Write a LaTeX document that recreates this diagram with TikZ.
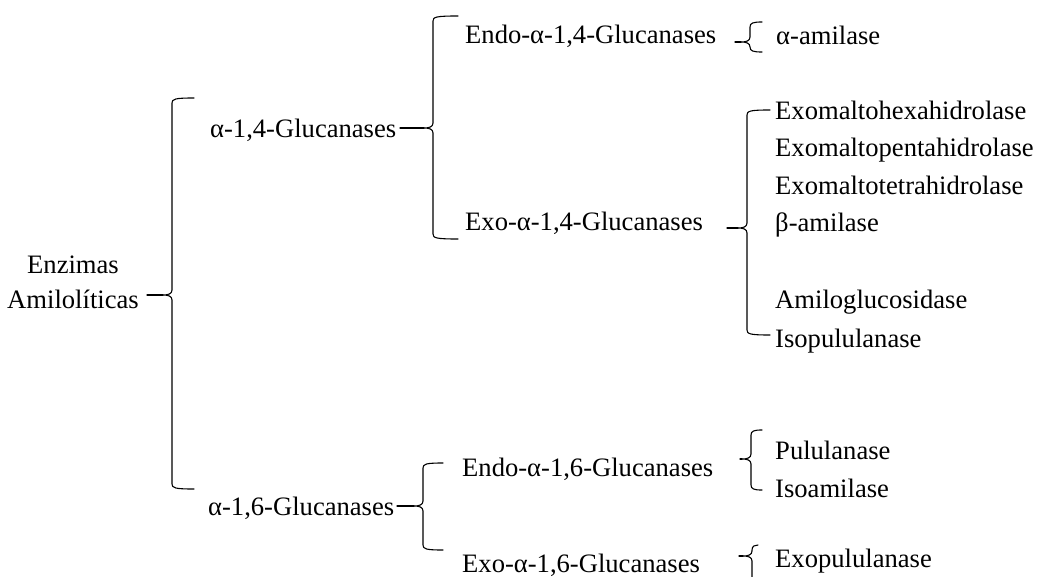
\documentclass[tikz,border=0pt]{standalone}
\usepackage{fontspec}
\setmainfont{Liberation Serif}
\tikzset{
  bracel/.style={line width=1.1pt, line join=round, line cap=round},
  lbl/.style={anchor=base west, inner sep=0pt, font=\fontsize{26.6}{32}\selectfont},
  clbl/.style={anchor=base, inner sep=0pt, font=\fontsize{26.6}{32}\selectfont}
}
% xbar ytop ybot xhook xtip ymid
\newcommand\brc[6]{%
  \draw[bracel] (#4,#2) .. controls ({#1+3},#2) and (#1,{#2+1}) .. (#1,{#2+5})
    -- (#1,{#6-5}) .. controls (#1,{#6-1}) and ({#1-4},#6) .. ({#1-9},#6)
    .. controls ({#1-4},#6) and (#1,{#6+1}) .. (#1,{#6+5})
    -- (#1,{#3-5}) .. controls (#1,{#3-1}) and ({#1+3},#3) .. (#4,#3);
  \draw[bracel] ({#1-9},#6) -- (#5,#6);
}
\begin{document}
\begin{tikzpicture}[x=1pt,y=-1pt]
\useasboundingbox[fill=white] (0,0) rectangle (1038,577);
% texts
\node[clbl] (enz1) at (73,273) {Enzimas};
\node[clbl] (enz2) at (73,308) {Amilolíticas};
\node[lbl] (a14) at (210,138) {α-1,4-Glucanases};
\node[lbl] (a16) at (208,515) {α-1,6-Glucanases};
\node[lbl] (endo14) at (465,44) {Endo-α-1,4-Glucanases};
\node[lbl] (exo14) at (465,231) {Exo-α-1,4-Glucanases};
\node[lbl] (aam) at (776,45) {α-amilase};
\node[lbl] (e1) at (775,120) {Exomaltohexahidrolase};
\node[lbl] (e2) at (775,157) {Exomaltopentahidrolase};
\node[lbl] (e3) at (775,195) {Exomaltotetrahidrolase};
\node[lbl] (e4) at (775,232) {β-amilase};
\node[lbl] (e5) at (775,308) {Amiloglucosidase};
\node[lbl] (e6) at (775,347) {Isopululanase};
\node[lbl] (endo16) at (462,476) {Endo-α-1,6-Glucanases};
\node[lbl] (exo16) at (462,572) {Exo-α-1,6-Glucanases};
\node[lbl] (pul) at (775,459) {Pululanase};
\node[lbl] (iso) at (775,497) {Isoamilase};
\node[lbl] (exop) at (775,567) {Exopululanase};
% braces
\brc{172}{98}{489}{194}{147}{295}
\brc{433}{16}{239}{458}{400}{128}
\brc{750}{22}{52}{762}{735}{42}
\brc{747}{110}{335}{770}{727}{228}
\brc{423}{463}{550}{443}{397}{506}
\brc{751}{430}{490}{762}{740}{459}
\brc{752}{545}{600}{758}{739}{556}
\end{tikzpicture}
\end{document}
